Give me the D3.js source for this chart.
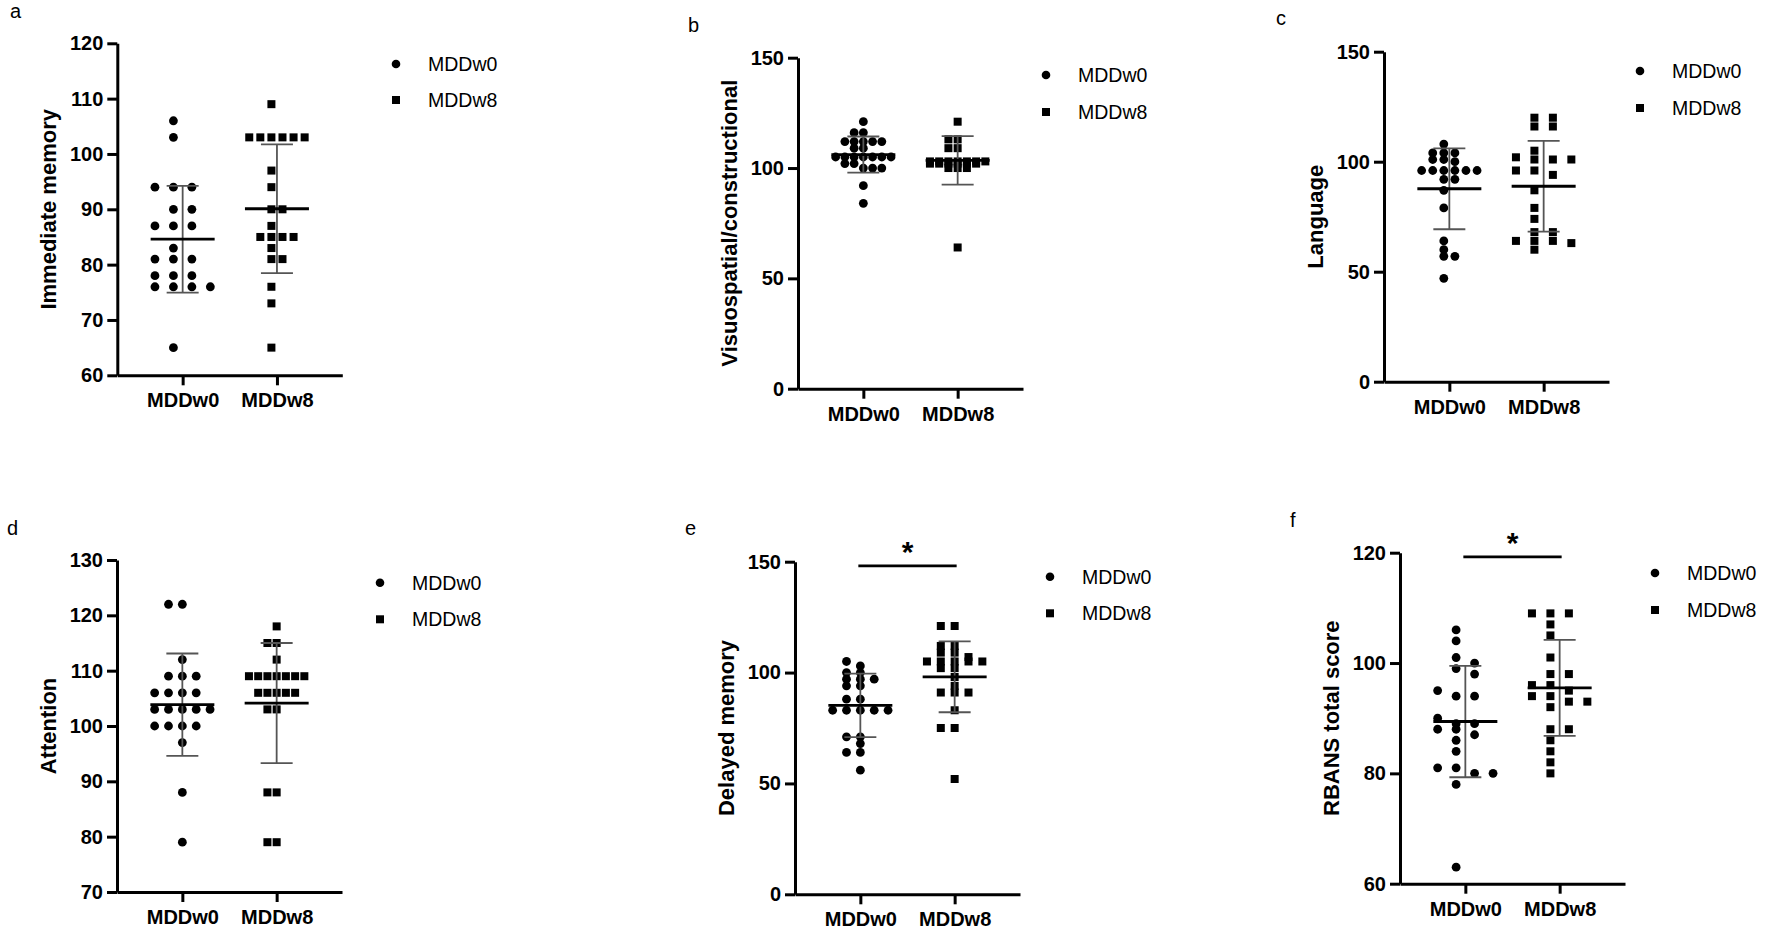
<!DOCTYPE html>
<html><head><meta charset="utf-8">
<script src="https://cdn.jsdelivr.net/npm/d3@7"></script>
<style>
body{margin:0;background:#fff}
svg{display:block;background:#fff}
text{font-family:"Liberation Sans",Arial,sans-serif;fill:#000}
</style>
</head><body>
<svg id="chart" width="1772" height="939"></svg>
<script>
// ---------- data ----------
const groups = ["MDDw0", "MDDw8"];
const panelLetters = ["a", "b", "c", "d", "e", "f"];
const yTitles = ["Immediate memory", "Visuospatial/constructional", "Language", "Attention", "Delayed memory", "RBANS total score"];
const yDomains = [[60, 120], [0, 150], [0, 150], [70, 130], [0, 150], [60, 120]];
const yTicks = [[60, 70, 80, 90, 100, 110, 120], [0, 50, 100, 150], [0, 50, 100, 150], [70, 80, 90, 100, 110, 120, 130], [0, 50, 100, 150], [60, 80, 100, 120]];
const significant = [false, false, false, false, true, true];

const immediateW0 = [106,103,94,94,94,90,90,87,87,87,83,81,81,81,78,78,78,76,76,76,76,65];
const immediateW8 = [109,103,103,103,103,103,103,97,94,90,90,87,85,85,85,85,83,81,81,76,73,65];
const immediateMean = [84.6, 90.1];
const immediateSD = [9.65, 11.65];

const visuoW0 = [121,116,116,112,112,112,112,112,109,109,105,105,105,105,105,105,105,102,102,100,100,100,92,84];
const visuoW8 = [121,113,113,109,109,103,103,103,103,103,103,103,102,102,102,102,102,102,100,100,100,64];
const visuoMean = [106.1, 103.5];
const visuoSD = [8.2, 11.0];

const languageW0 = [108,104,104,104,101,101,100,96,96,96,96,96,96,92,92,87,79,64,60,57,57,47];
const languageW8 = [120,120,116,116,105,102,101,101,101,96,96,94,87,79,74,68,68,64,64,64,63,60];
const languageMean = [87.7, 88.85];
const languageSD = [18.4, 20.65];

const attentionW0 = [122,122,112,109,109,109,106,106,106,106,103,103,103,103,103,100,100,100,100,97,88,79];
const attentionW8 = [118,115,115,112,109,109,109,109,109,109,109,106,106,106,106,106,103,103,88,88,79,79];
const attentionMean = [103.85, 104.15];
const attentionSD = [9.25, 10.85];

const delayedW0 = [105,103,100,100,97,97,97,94,94,88,88,83,83,83,83,83,71,71,68,64,64,56];
const delayedW8 = [121,121,112,112,109,109,107,105,105,105,105,105,102,102,98,94,91,91,91,83,75,75,52];
const delayedMean = [85.2, 98.1];
const delayedSD = [14.3, 16.0];

const rbansW0 = [106,104,101,100,99,98,95,94,94,90,89,89,88,88,87,86,84,81,81,80,80,78,63];
const rbansW8 = [109,109,109,107,105,101,98,98,96,96,95,94,94,93,93,92,88,88,86,84,82,80];
const rbansMean = [89.4, 95.5];
const rbansSD = [10.1, 8.7];

const panelValues = [
  [immediateW0, immediateW8], [visuoW0, visuoW8], [languageW0, languageW8],
  [attentionW0, attentionW8], [delayedW0, delayedW8], [rbansW0, rbansW8]
];
const panelMeans = [immediateMean, visuoMean, languageMean, attentionMean, delayedMean, rbansMean];
const panelSDs = [immediateSD, visuoSD, languageSD, attentionSD, delayedSD, rbansSD];

// ---------- layout (positions, not data) ----------
const layouts = [
  {axisX: 117.3, yTop: 43.3,  yBot: 375.3, lab: [10, 18],    leg: [396, 64, 100]},
  {axisX: 798,   yTop: 57.7,  yBot: 388.7, lab: [688, 32],   leg: [1046, 75, 112]},
  {axisX: 1384,  yTop: 51.7,  yBot: 381.7, lab: [1276, 25],  leg: [1640, 71, 108]},
  {axisX: 117,   yTop: 560,   yBot: 892,   lab: [7, 535],    leg: [380, 582.7, 619.3]},
  {axisX: 795,   yTop: 561.7, yBot: 894.3, lab: [685, 535],  leg: [1050, 576.7, 613.3]},
  {axisX: 1400,  yTop: 552.7, yBot: 883.7, lab: [1290, 527], leg: [1655, 573, 610]}
];
const AXIS_LEN = 225;
const SPREAD = 55.4;
const BIN_TOL = 6.2;

const svg = d3.select("#chart");

function layoutPoints(values, y, cx) {
  const sorted = values.slice().sort((a, b) => b - a);
  const bins = [];
  sorted.forEach(v => {
    const last = bins[bins.length - 1];
    if (last && Math.abs(y(v) - y(last[0])) <= BIN_TOL) last.push(v);
    else bins.push([v]);
  });
  const M = Math.min(7, d3.max(bins, b => b.length));
  const sp = M > 1 ? SPREAD / (M - 1) : 0;
  const pts = [];
  bins.forEach(bin => {
    for (let s = 0; s < bin.length; s += M) {
      const layer = bin.slice(s, s + M);
      const start = Math.floor((M - layer.length) / 2);
      layer.forEach((v, i) => {
        pts.push({v: v, x: cx + (start + i - (M - 1) / 2) * sp, y: y(v)});
      });
    }
  });
  return pts;
}

panelLetters.forEach((letter, p) => {
  const L = layouts[p];
  const g = svg.append("g");
  const y = d3.scaleLinear().domain(yDomains[p]).range([L.yBot, L.yTop]);
  const x = d3.scalePoint().domain(groups).range([L.axisX, L.axisX + AXIS_LEN]).padding(0.693);

  // panel letter
  g.append("text").attr("x", L.lab[0]).attr("y", L.lab[1]).attr("font-size", 20).text(letter);

  // y axis
  const ya = g.append("g").attr("transform", `translate(${L.axisX},0)`)
    .call(d3.axisLeft(y).tickValues(yTicks[p]).tickSize(10).tickSizeOuter(0).tickPadding(4));
  ya.select(".domain").attr("stroke", "#000").attr("stroke-width", 3);
  ya.selectAll(".tick line").attr("stroke", "#000").attr("stroke-width", 3);
  ya.selectAll(".tick text").attr("font-size", 20).attr("font-weight", "bold")
    .attr("font-family", "'Liberation Sans', Arial, sans-serif").attr("fill", "#000");

  // x axis
  const xa = g.append("g").attr("transform", `translate(0,${L.yBot})`)
    .call(d3.axisBottom(x).tickSize(10).tickSizeOuter(0).tickPadding(8));
  xa.select(".domain").attr("stroke", "#000").attr("stroke-width", 3);
  xa.selectAll(".tick line").attr("stroke", "#000").attr("stroke-width", 3);
  xa.selectAll(".tick text").attr("font-size", 20).attr("font-weight", "bold")
    .attr("font-family", "'Liberation Sans', Arial, sans-serif").attr("fill", "#000");

  // y title
  g.append("text")
    .attr("transform", `translate(${L.axisX - 69},${(L.yTop + L.yBot) / 2}) rotate(-90)`)
    .attr("text-anchor", "middle").attr("dominant-baseline", "central")
    .attr("font-size", 22).attr("font-weight", "bold").text(yTitles[p]);

  // points
  groups.forEach((grp, k) => {
    const pts = layoutPoints(panelValues[p][k], y, x(grp));
    if (k === 0) {
      g.append("g").selectAll("circle").data(pts).join("circle")
        .attr("cx", d => d.x).attr("cy", d => d.y).attr("r", 4.4).attr("fill", "#000");
    } else {
      g.append("g").selectAll("rect").data(pts).join("rect")
        .attr("x", d => d.x - 4).attr("y", d => d.y - 4).attr("width", 8).attr("height", 8).attr("fill", "#000");
    }
  });

  // SD bars and means
  groups.forEach((grp, k) => {
    const cx = x(grp), m = panelMeans[p][k], sd = panelSDs[p][k];
    const eb = g.append("g").attr("stroke", "#555").attr("stroke-width", 1.8);
    eb.append("line").attr("x1", cx).attr("x2", cx).attr("y1", y(m + sd)).attr("y2", y(m - sd));
    eb.append("line").attr("x1", cx - 16).attr("x2", cx + 16).attr("y1", y(m + sd)).attr("y2", y(m + sd));
    eb.append("line").attr("x1", cx - 16).attr("x2", cx + 16).attr("y1", y(m - sd)).attr("y2", y(m - sd));
    g.append("line").attr("x1", cx - 32).attr("x2", cx + 32).attr("y1", y(m)).attr("y2", y(m))
      .attr("stroke", "#000").attr("stroke-width", 2.8);
  });

  // significance
  if (significant[p]) {
    const x0 = x(groups[0]) - 2, x1 = x(groups[1]) + 2, ly = L.yTop + 4.2;
    g.append("line").attr("x1", x0).attr("x2", x1).attr("y1", ly).attr("y2", ly)
      .attr("stroke", "#000").attr("stroke-width", 2.7);
    g.append("text").attr("x", (x0 + x1) / 2).attr("y", ly - 4).attr("text-anchor", "middle")
      .attr("font-size", 30).attr("font-weight", "bold").text("*");
  }

  // legend
  const lg = g.append("g");
  lg.append("circle").attr("cx", L.leg[0]).attr("cy", L.leg[1]).attr("r", 4.3).attr("fill", "#000");
  lg.append("rect").attr("x", L.leg[0] - 4).attr("y", L.leg[2] - 4).attr("width", 8).attr("height", 8).attr("fill", "#000");
  lg.append("text").attr("x", L.leg[0] + 32).attr("y", L.leg[1]).attr("dominant-baseline", "central")
    .attr("font-size", 19.5).text(groups[0]);
  lg.append("text").attr("x", L.leg[0] + 32).attr("y", L.leg[2]).attr("dominant-baseline", "central")
    .attr("font-size", 19.5).text(groups[1]);
});
</script>
</body></html>
